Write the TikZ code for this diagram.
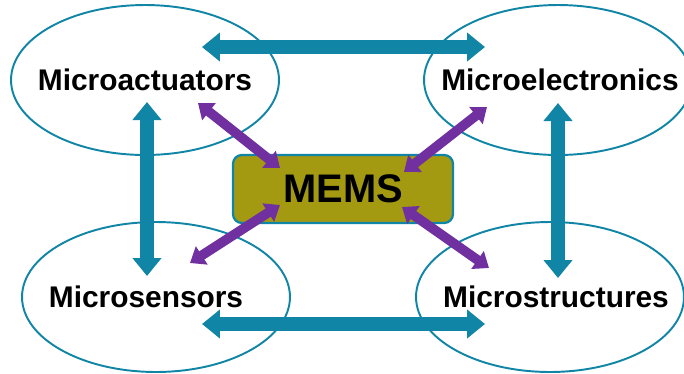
\documentclass[tikz,border=0pt]{standalone}
\usepackage{fontspec}
\setmainfont{Liberation Sans}
\usetikzlibrary{shapes.geometric,arrows.meta}

\definecolor{memsteal}{HTML}{1185A6}
\definecolor{memspurple}{HTML}{7030A0}
\definecolor{memsolive}{HTML}{A39A12}

\begin{document}
\begin{tikzpicture}[x=0.02cm,y=-0.02cm,
	field/.style={ellipse,draw=memsteal,line width=1.1pt,minimum width=5.36cm,minimum height=3cm,inner sep=0pt},
	fieldtext/.style={font=\fontsize{17}{20}\selectfont\bfseries,inner sep=0pt},
	core/.style={rectangle,rounded corners=5pt,draw=memsteal,line width=1.3pt,fill=memsolive,minimum width=4.4cm,minimum height=1.36cm,font=\fontsize{22.7}{26}\selectfont\bfseries},
	link/.style={memsteal,line width=8pt,{Triangle[width=0.56cm,length=0.36cm]}-{Triangle[width=0.56cm,length=0.36cm]}},
	spoke/.style={memspurple,line width=5.5pt,{Triangle[width=0.42cm,length=0.28cm]}-{Triangle[width=0.42cm,length=0.28cm]}}]
	\clip (0,0) rectangle (684,373);
	
	%FIELDS
	\node[field,label={[fieldtext]center:Microactuators}] (act) at (145,80) {};
	\node[field,label={[fieldtext,xshift=0.04cm]center:Microelectronics}] (ele) at (558,80) {};
	\node[field,label={[fieldtext,xshift=-0.2cm]center:Microsensors}] (sen) at (156,297) {};
	\node[field,label={[fieldtext,xshift=0.12cm]center:Microstructures}] (str) at (550,297) {};
	
	%CORE
	\node[core] (mems) at (343,189) {MEMS};
	
	%LINKS
	\draw[link] ([shift={(57,-33)}]act.center)--([shift={(-73,-33)}]ele.center);
	\draw[link] ([shift={(46,27)}]sen.center)--([shift={(-65,27)}]str.center);
	\draw[link] ([shift={(2,22)}]act.center)--([shift={(-9,-21)}]sen.center);
	\draw[link] ([shift={(0,23)}]ele.center)--([shift={(8,-19)}]str.center);
	
	%SPOKES
	\foreach \f/\fx/\fy/\mx/\my in {act/53/23/-63/-21,ele/-71/27/61/-17,sen/34/-34/-63/16,str/-61/-29/59/18}{
		\draw[spoke] ([shift={(\fx,\fy)}]\f.center)--([shift={(\mx,\my)}]mems.center);
	}
\end{tikzpicture}
\end{document}
